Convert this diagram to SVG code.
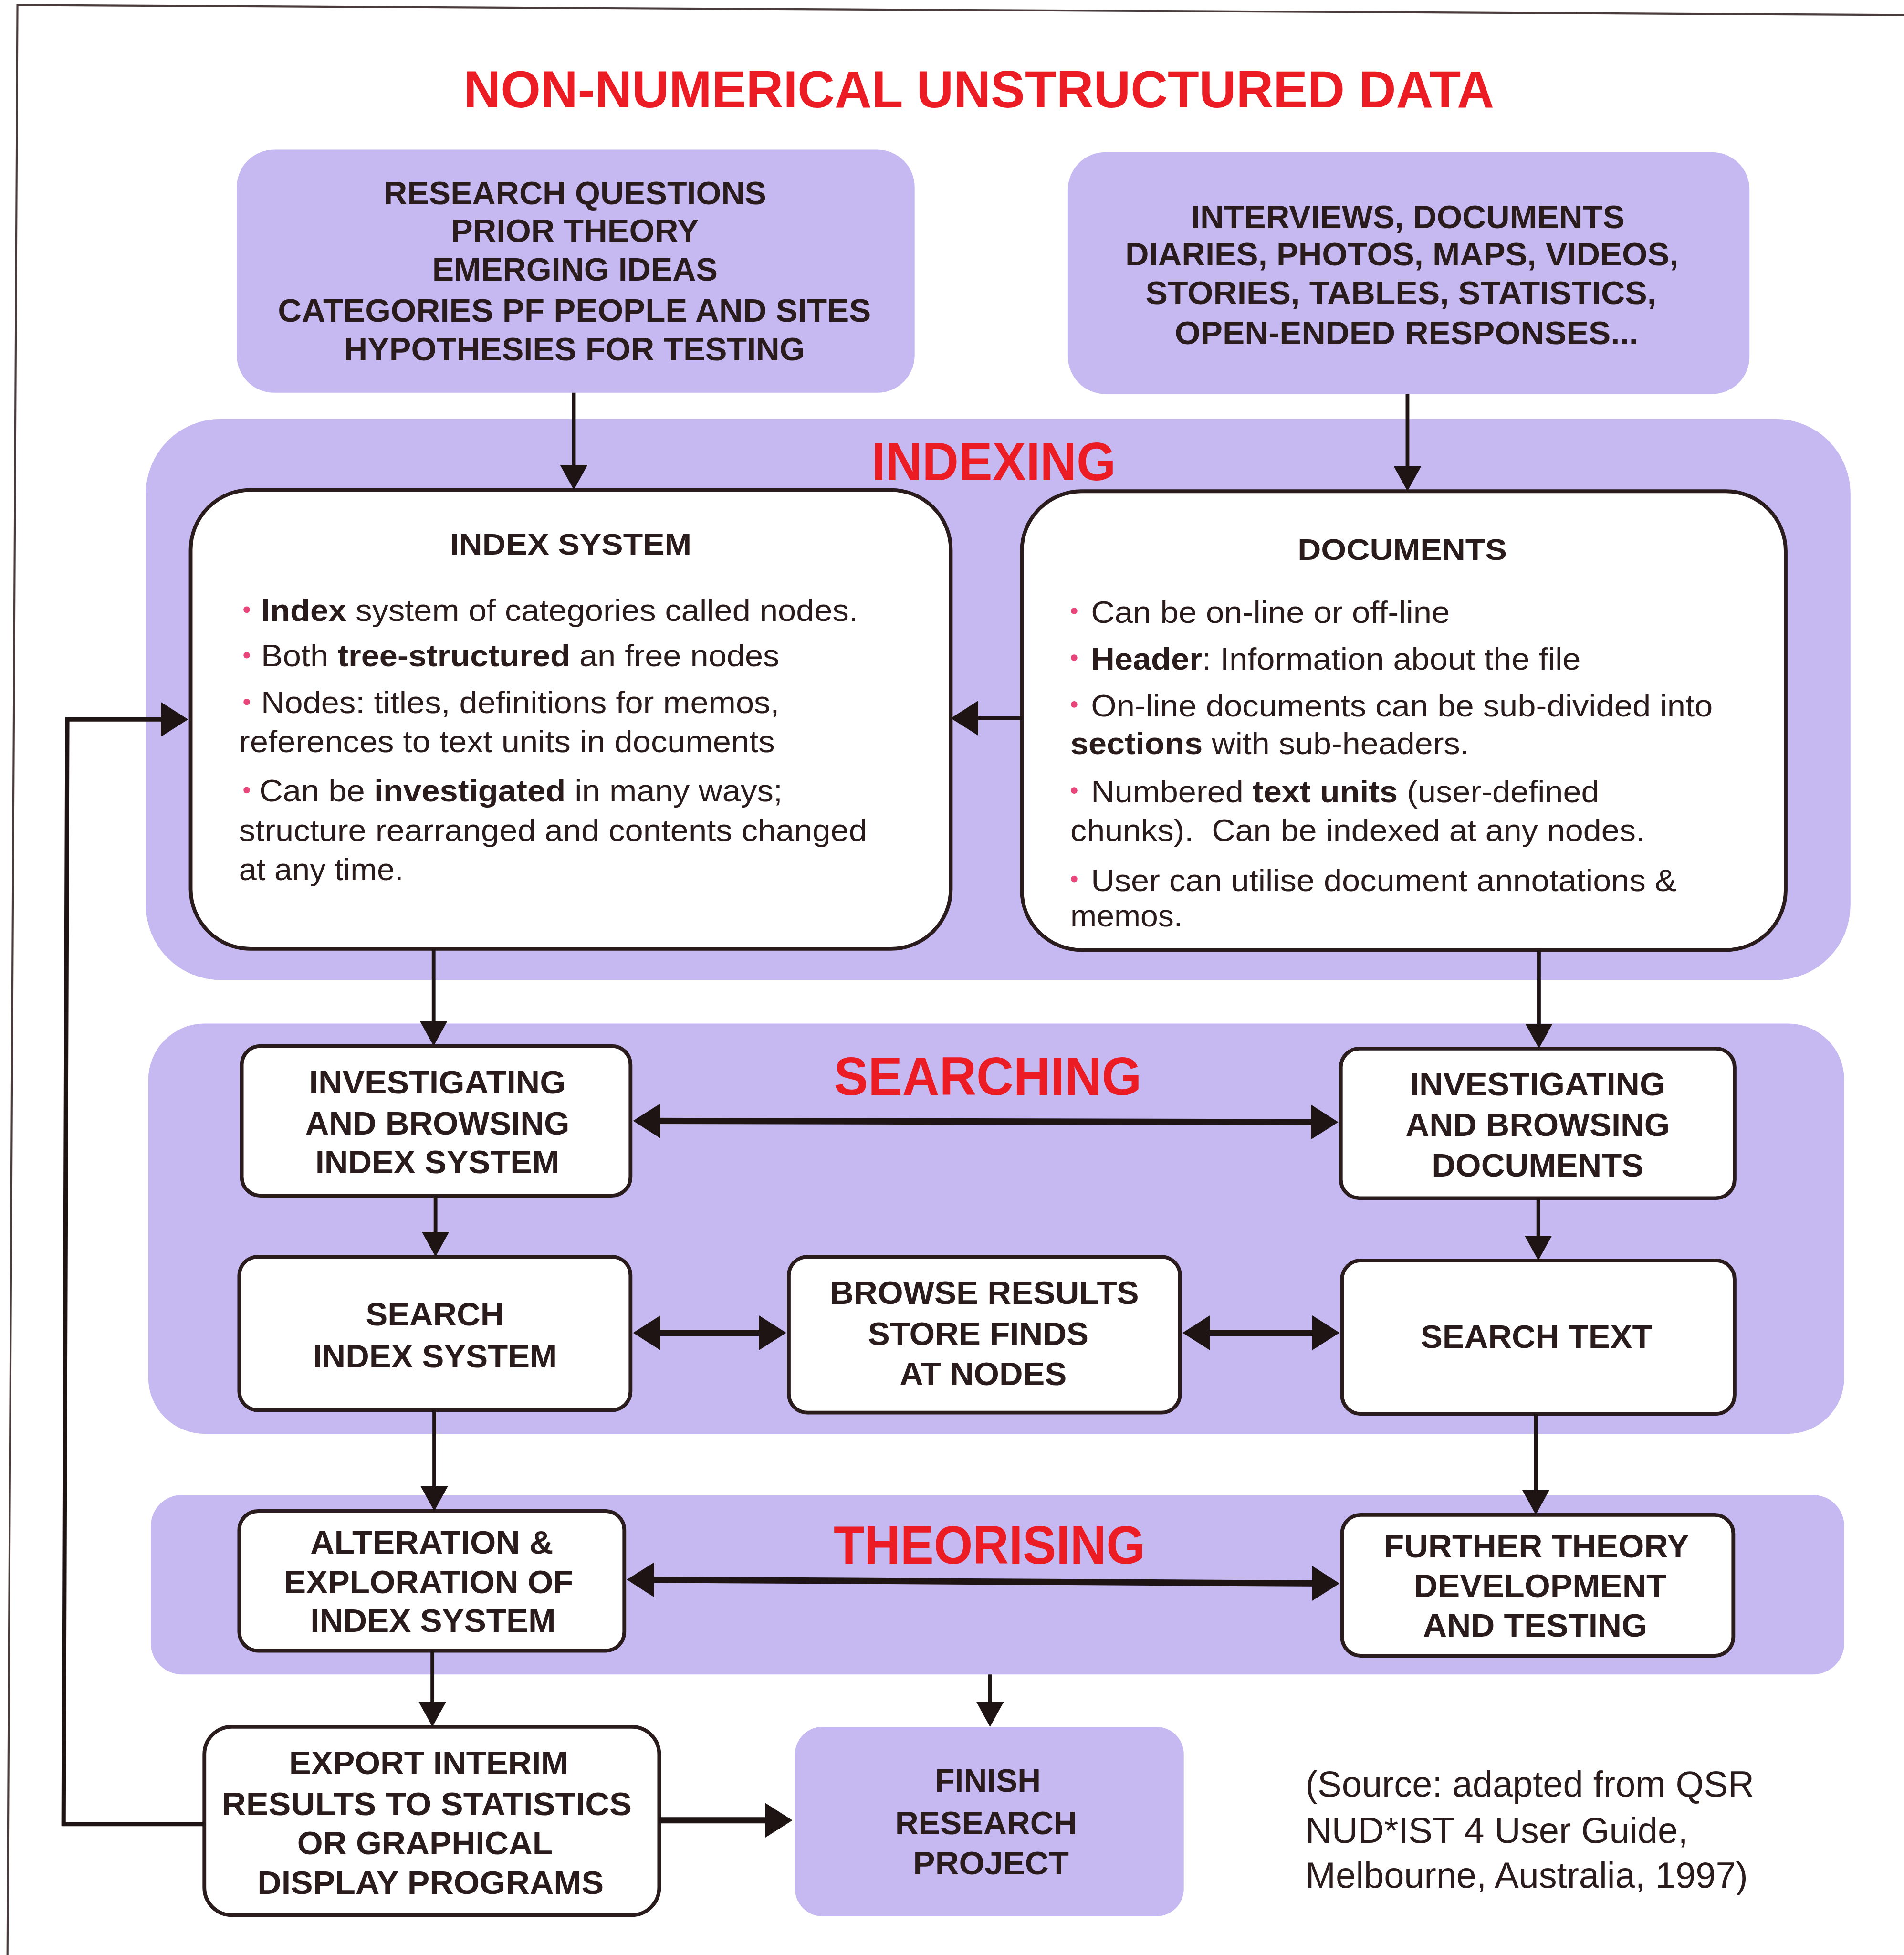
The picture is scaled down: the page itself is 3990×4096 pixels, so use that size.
<svg xmlns="http://www.w3.org/2000/svg" width="3990" height="4096" viewBox="0 0 3990 4096">
  <style>
    text { font-family: "Liberation Sans", Arial, sans-serif; fill: #2a1c1c; }
    .ttl { font-weight: bold; font-size: 42px; fill: #ec1c24; text-anchor: middle; }
    .sec { font-weight: bold; font-size: 43px; fill: #ec1c24; text-anchor: middle; }
    .lbl { font-weight: bold; font-size: 26px; text-anchor: middle; }
    .hd { font-weight: bold; font-size: 24px; text-anchor: middle; }
    .body { font-size: 25px; }
    .b { font-weight: bold; }
    .src { font-size: 29px; }
    .band { fill: #c6b9f1; }
    .box { fill: #ffffff; stroke: #2a1c1c; stroke-width: 3; }
    .dot { fill: #e8457a; }
    .conn { fill: none; stroke: #1e1414; stroke-linejoin: miter; }
    .thin { stroke-width: 3; }
    .thick { stroke-width: 5; }
    .frame { fill: none; stroke: #4a3c3c; stroke-width: 1.6; }
  </style>
  <defs>
    <marker id="ah" viewBox="0 0 20 22" refX="12" refY="11" markerWidth="20" markerHeight="22" markerUnits="userSpaceOnUse" orient="auto-start-reverse">
      <path d="M0,0 L20,11 L0,22 z" fill="#1e1414"/>
    </marker>
    <marker id="ah2" viewBox="0 0 22 28" refX="12" refY="14" markerWidth="22" markerHeight="28" markerUnits="userSpaceOnUse" orient="auto-start-reverse">
      <path d="M0,0 L22,14 L0,28 z" fill="#1e1414"/>
    </marker>
  </defs>

  <rect x="0" y="0" width="3990" height="4096" fill="#ffffff"/>

  <g transform="scale(2.6113,2.6122)">
    <!-- page frame -->
    <path class="frame" d="M1528,12 L14,4 L6,1568"/>

    <!-- title -->
    <text class="ttl" x="785.5" y="86" textLength="827" lengthAdjust="spacingAndGlyphs">NON-NUMERICAL UNSTRUCTURED DATA</text>

    <!-- phase bands -->
    <g id="band-indexing">
      <rect class="band" x="117" y="336" width="1368" height="450" rx="60"/>
      <text class="sec" x="797.5" y="385" textLength="196" lengthAdjust="spacingAndGlyphs">INDEXING</text>
    </g>
    <g id="band-searching">
      <rect class="band" x="119" y="821" width="1361" height="329" rx="45"/>
      <text class="sec" x="792.7" y="878" textLength="247" lengthAdjust="spacingAndGlyphs">SEARCHING</text>
    </g>
    <g id="band-theorising">
      <rect class="band" x="121" y="1199" width="1359" height="144" rx="25"/>
      <text class="sec" x="794" y="1254" textLength="250" lengthAdjust="spacingAndGlyphs">THEORISING</text>
    </g>

    <!-- inputs -->
    <g id="node-research">
      <rect class="band" x="190" y="120" width="544" height="195" rx="30"/>
      <text class="lbl" x="461.5" y="164" textLength="307" lengthAdjust="spacingAndGlyphs">RESEARCH QUESTIONS</text>
      <text class="lbl" x="461.4" y="194" textLength="199" lengthAdjust="spacingAndGlyphs">PRIOR THEORY</text>
      <text class="lbl" x="461.4" y="225" textLength="229" lengthAdjust="spacingAndGlyphs">EMERGING IDEAS</text>
      <text class="lbl" x="461" y="258" textLength="476" lengthAdjust="spacingAndGlyphs">CATEGORIES PF PEOPLE AND SITES</text>
      <text class="lbl" x="461" y="289" textLength="370" lengthAdjust="spacingAndGlyphs">HYPOTHESIES FOR TESTING</text>
    </g>
    <g id="node-data">
      <rect class="band" x="857" y="122" width="547" height="194" rx="30"/>
      <text class="lbl" x="1129.8" y="183" textLength="348" lengthAdjust="spacingAndGlyphs">INTERVIEWS, DOCUMENTS</text>
      <text class="lbl" x="1125" y="213" textLength="444" lengthAdjust="spacingAndGlyphs">DIARIES, PHOTOS, MAPS, VIDEOS,</text>
      <text class="lbl" x="1124.3" y="244" textLength="410" lengthAdjust="spacingAndGlyphs">STORIES, TABLES, STATISTICS,</text>
      <text class="lbl" x="1128.7" y="276" textLength="372" lengthAdjust="spacingAndGlyphs">OPEN-ENDED RESPONSES...</text>
    </g>

    <!-- indexing -->
    <g id="node-index-system">
      <rect class="box" x="153" y="393" width="610" height="368" rx="48"/>
      <text class="hd" x="458" y="445" textLength="194" lengthAdjust="spacingAndGlyphs">INDEX SYSTEM</text>
      <circle class="dot" cx="198" cy="489" r="2.6"/>
      <circle class="dot" cx="198" cy="525.5" r="2.6"/>
      <circle class="dot" cx="198" cy="563" r="2.6"/>
      <circle class="dot" cx="198" cy="633.7" r="2.6"/>
      <text class="body" x="209.5" y="498" textLength="479" lengthAdjust="spacingAndGlyphs"><tspan class="b">Index</tspan> system of categories called nodes.</text>
      <text class="body" x="209.5" y="534.5" textLength="416" lengthAdjust="spacingAndGlyphs">Both <tspan class="b">tree-structured</tspan> an free nodes</text>
      <text class="body" x="209.5" y="572" textLength="416" lengthAdjust="spacingAndGlyphs">Nodes: titles, definitions for memos,</text>
      <text class="body" x="191.8" y="603.5" textLength="430" lengthAdjust="spacingAndGlyphs">references to text units in documents</text>
      <text class="body" x="208" y="642.7" textLength="420" lengthAdjust="spacingAndGlyphs">Can be <tspan class="b">investigated</tspan> in many ways;</text>
      <text class="body" x="191.8" y="674.7" textLength="504" lengthAdjust="spacingAndGlyphs">structure rearranged and contents changed</text>
      <text class="body" x="191.8" y="705.8" textLength="132" lengthAdjust="spacingAndGlyphs">at any time.</text>
    </g>
    <g id="node-documents">
      <rect class="box" x="820" y="394" width="613" height="368" rx="48"/>
      <text class="hd" x="1125.3" y="449" textLength="168" lengthAdjust="spacingAndGlyphs">DOCUMENTS</text>
      <circle class="dot" cx="862" cy="490" r="2.6"/>
      <circle class="dot" cx="862" cy="527.5" r="2.6"/>
      <circle class="dot" cx="862" cy="565" r="2.6"/>
      <circle class="dot" cx="862" cy="634" r="2.6"/>
      <circle class="dot" cx="862" cy="705" r="2.6"/>
      <text class="body" x="875.5" y="499.6" textLength="288" lengthAdjust="spacingAndGlyphs">Can be on-line or off-line</text>
      <text class="body" x="875.5" y="537" textLength="393" lengthAdjust="spacingAndGlyphs"><tspan class="b">Header</tspan>: Information about the file</text>
      <text class="body" x="875.5" y="574.6" textLength="499" lengthAdjust="spacingAndGlyphs">On-line documents can be sub-divided into</text>
      <text class="body" x="859" y="605" textLength="320" lengthAdjust="spacingAndGlyphs"><tspan class="b">sections</tspan> with sub-headers.</text>
      <text class="body" x="875.5" y="643.6" textLength="408" lengthAdjust="spacingAndGlyphs">Numbered <tspan class="b">text units</tspan> (user-defined</text>
      <text class="body" x="859" y="674.7" textLength="461" lengthAdjust="spacingAndGlyphs">chunks).&#160; Can be indexed at any nodes.</text>
      <text class="body" x="875.5" y="714.8" textLength="470" lengthAdjust="spacingAndGlyphs">User can utilise document annotations &amp;</text>
      <text class="body" x="859" y="743" textLength="90" lengthAdjust="spacingAndGlyphs">memos.</text>
    </g>

    <!-- searching -->
    <g id="node-browse-index">
      <rect class="box" x="194" y="839" width="312" height="120" rx="15"/>
      <text class="lbl" x="351" y="877" textLength="206" lengthAdjust="spacingAndGlyphs">INVESTIGATING</text>
      <text class="lbl" x="351" y="910" textLength="212" lengthAdjust="spacingAndGlyphs">AND BROWSING</text>
      <text class="lbl" x="351" y="941" textLength="196" lengthAdjust="spacingAndGlyphs">INDEX SYSTEM</text>
    </g>
    <g id="node-browse-docs">
      <rect class="box" x="1076" y="841" width="316" height="120" rx="15"/>
      <text class="lbl" x="1234" y="878.4" textLength="205" lengthAdjust="spacingAndGlyphs">INVESTIGATING</text>
      <text class="lbl" x="1234" y="911" textLength="212" lengthAdjust="spacingAndGlyphs">AND BROWSING</text>
      <text class="lbl" x="1234" y="943.5" textLength="170" lengthAdjust="spacingAndGlyphs">DOCUMENTS</text>
    </g>
    <g id="node-search-index">
      <rect class="box" x="192" y="1008" width="314" height="123" rx="15"/>
      <text class="lbl" x="349" y="1063" textLength="111" lengthAdjust="spacingAndGlyphs">SEARCH</text>
      <text class="lbl" x="349" y="1096.7" textLength="196" lengthAdjust="spacingAndGlyphs">INDEX SYSTEM</text>
    </g>
    <g id="node-browse-results">
      <rect class="box" x="633" y="1008" width="314" height="125" rx="15"/>
      <text class="lbl" x="790" y="1046" textLength="248" lengthAdjust="spacingAndGlyphs">BROWSE RESULTS</text>
      <text class="lbl" x="785" y="1078.6" textLength="177" lengthAdjust="spacingAndGlyphs">STORE FINDS</text>
      <text class="lbl" x="789" y="1111" textLength="134" lengthAdjust="spacingAndGlyphs">AT NODES</text>
    </g>
    <g id="node-search-text">
      <rect class="box" x="1077" y="1011" width="315" height="123" rx="15"/>
      <text class="lbl" x="1233" y="1081" textLength="186" lengthAdjust="spacingAndGlyphs">SEARCH TEXT</text>
    </g>

    <!-- theorising -->
    <g id="node-alteration">
      <rect class="box" x="192" y="1212" width="309" height="112" rx="15"/>
      <text class="lbl" x="346.5" y="1246" textLength="195" lengthAdjust="spacingAndGlyphs">ALTERATION &amp;</text>
      <text class="lbl" x="344" y="1278" textLength="232" lengthAdjust="spacingAndGlyphs">EXPLORATION OF</text>
      <text class="lbl" x="347.5" y="1309" textLength="197" lengthAdjust="spacingAndGlyphs">INDEX SYSTEM</text>
    </g>
    <g id="node-further-theory">
      <rect class="box" x="1077" y="1215" width="314" height="113" rx="15"/>
      <text class="lbl" x="1233" y="1249" textLength="245" lengthAdjust="spacingAndGlyphs">FURTHER THEORY</text>
      <text class="lbl" x="1236" y="1281" textLength="203" lengthAdjust="spacingAndGlyphs">DEVELOPMENT</text>
      <text class="lbl" x="1232" y="1312.5" textLength="180" lengthAdjust="spacingAndGlyphs">AND TESTING</text>
    </g>

    <!-- outputs -->
    <g id="node-export">
      <rect class="box" x="164" y="1385" width="365" height="151" rx="22"/>
      <text class="lbl" x="344" y="1423" textLength="224" lengthAdjust="spacingAndGlyphs">EXPORT INTERIM</text>
      <text class="lbl" x="342.5" y="1455.7" textLength="329" lengthAdjust="spacingAndGlyphs">RESULTS TO STATISTICS</text>
      <text class="lbl" x="341" y="1487.4" textLength="205" lengthAdjust="spacingAndGlyphs">OR GRAPHICAL</text>
      <text class="lbl" x="345.5" y="1519" textLength="278" lengthAdjust="spacingAndGlyphs">DISPLAY PROGRAMS</text>
    </g>
    <g id="node-finish">
      <rect class="band" x="638" y="1385" width="312" height="152" rx="22"/>
      <text class="lbl" x="792.8" y="1437" textLength="85" lengthAdjust="spacingAndGlyphs">FINISH</text>
      <text class="lbl" x="791.3" y="1471" textLength="146" lengthAdjust="spacingAndGlyphs">RESEARCH</text>
      <text class="lbl" x="795.3" y="1503.5" textLength="125" lengthAdjust="spacingAndGlyphs">PROJECT</text>
    </g>

    <!-- source note -->
    <g id="source-note">
      <text class="src" x="1047.7" y="1441" textLength="360" lengthAdjust="spacingAndGlyphs">(Source: adapted from QSR</text>
      <text class="src" x="1047.7" y="1478" textLength="307" lengthAdjust="spacingAndGlyphs">NUD*IST 4 User Guide,</text>
      <text class="src" x="1047.7" y="1514" textLength="355" lengthAdjust="spacingAndGlyphs">Melbourne, Australia, 1997)</text>
    </g>

    <!-- connectors -->
    <g id="connectors">
      <line class="conn thin" x1="460.5" y1="315" x2="460.5" y2="385" marker-end="url(#ah)"/>
      <line class="conn thin" x1="1129.5" y1="316" x2="1129.5" y2="386" marker-end="url(#ah)"/>
      <line class="conn thin" x1="820" y1="576" x2="773" y2="576" marker-end="url(#ah2)"/>
      <polyline class="conn" stroke-width="3.5" points="164,1463 51,1463 54,577 141,577" marker-end="url(#ah2)"/>
      <line class="conn thin" x1="348" y1="761" x2="348" y2="831" marker-end="url(#ah)"/>
      <line class="conn thin" x1="1235" y1="762" x2="1235" y2="833" marker-end="url(#ah)"/>
      <line class="conn thick" x1="518" y1="899" x2="1064" y2="900" marker-start="url(#ah2)" marker-end="url(#ah2)"/>
      <line class="conn thin" x1="349.5" y1="959" x2="349.5" y2="1000" marker-end="url(#ah)"/>
      <line class="conn thin" x1="1234.5" y1="961" x2="1234.5" y2="1003" marker-end="url(#ah)"/>
      <line class="conn thick" x1="518" y1="1069" x2="621" y2="1069" marker-start="url(#ah2)" marker-end="url(#ah2)"/>
      <line class="conn thick" x1="959" y1="1069" x2="1065" y2="1069" marker-start="url(#ah2)" marker-end="url(#ah2)"/>
      <line class="conn thin" x1="348.5" y1="1131" x2="348.5" y2="1204" marker-end="url(#ah)"/>
      <line class="conn thin" x1="1232.5" y1="1134" x2="1232.5" y2="1207" marker-end="url(#ah)"/>
      <line class="conn thick" x1="513" y1="1267" x2="1065" y2="1270" marker-start="url(#ah2)" marker-end="url(#ah2)"/>
      <line class="conn thin" x1="347" y1="1324" x2="347" y2="1377" marker-end="url(#ah)"/>
      <line class="conn thin" x1="794.5" y1="1343" x2="794.5" y2="1377" marker-end="url(#ah)"/>
      <line class="conn thick" x1="529" y1="1460" x2="626" y2="1460" marker-end="url(#ah2)"/>
    </g>
  </g>
</svg>
